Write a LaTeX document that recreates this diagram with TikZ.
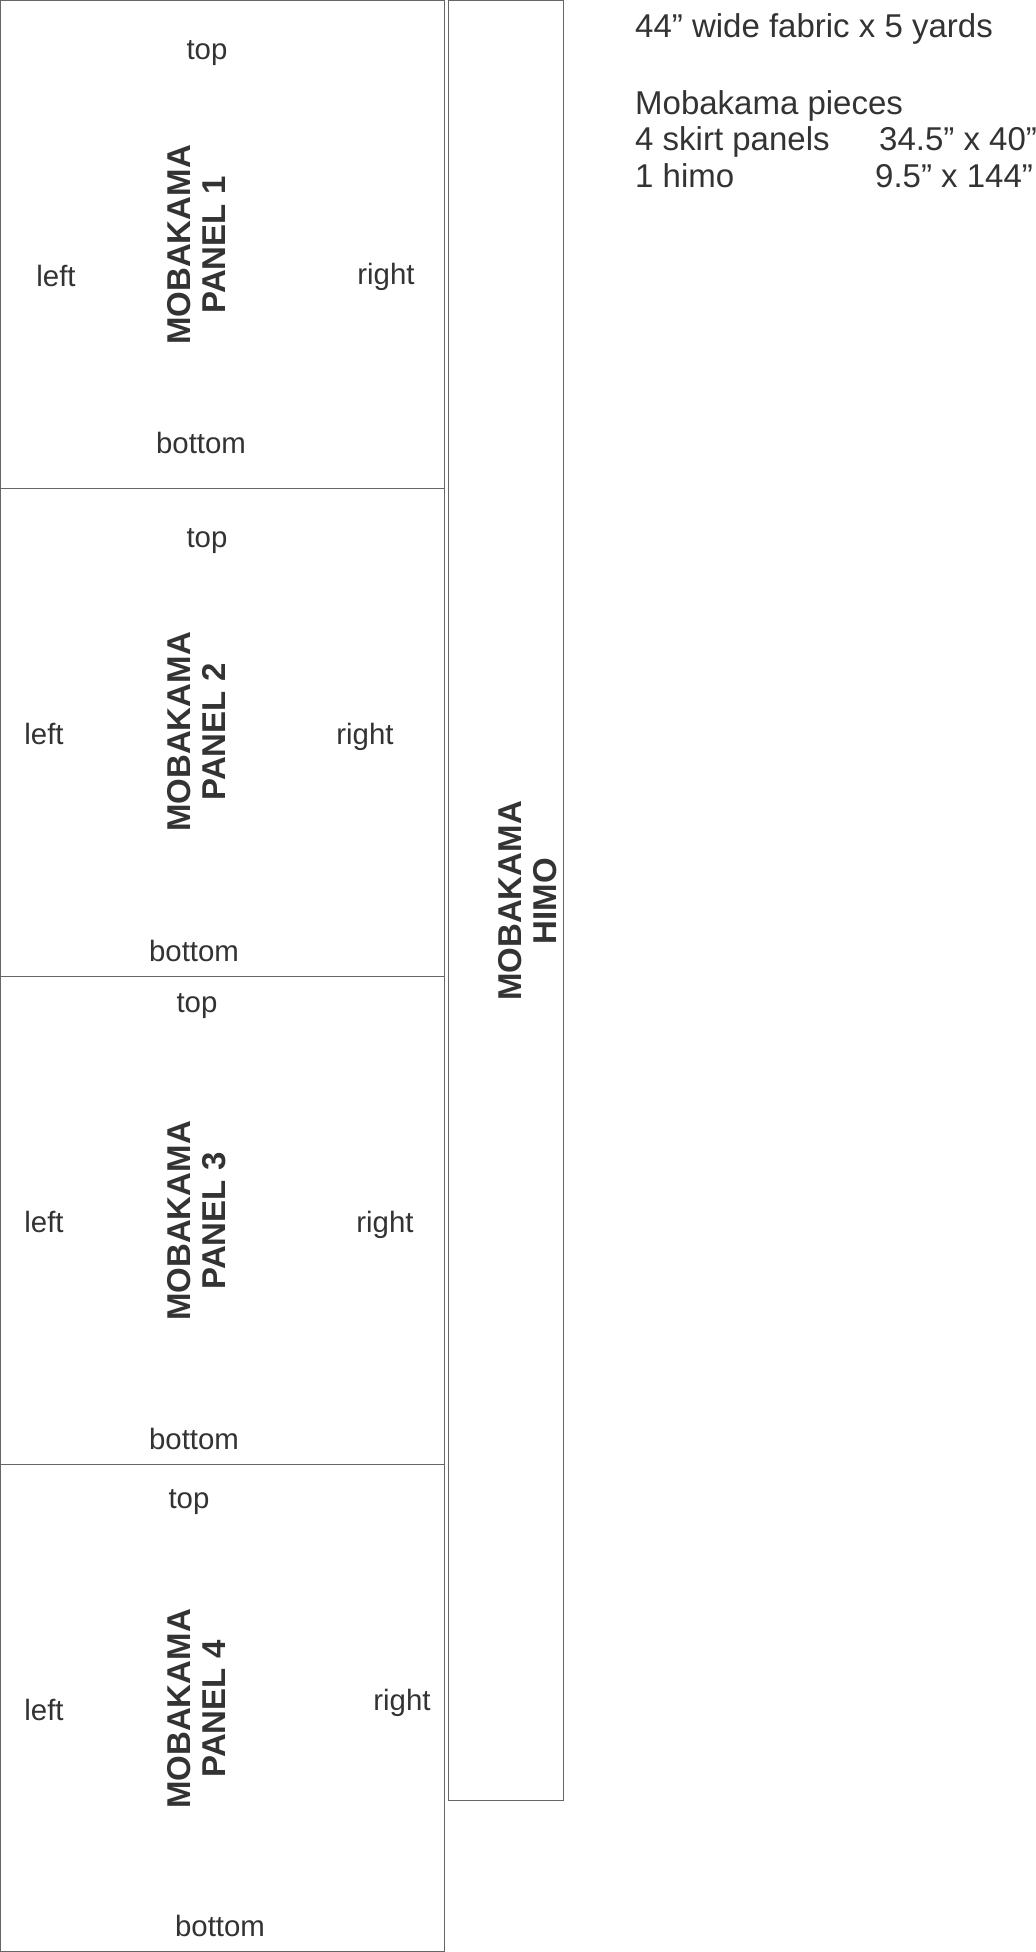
\documentclass[tikz,border=0pt]{standalone}
\usepackage{fontspec}
\setmainfont{Liberation Sans}
\definecolor{ink}{HTML}{333333}
\definecolor{edge}{HTML}{666666}
\newcommand{\vlab}[2]{\begin{tabular}{@{}c@{}}#1\\#2\end{tabular}}
\tikzset{
  piece/.style={draw=edge, line width=1pt, fill=none},
  side/.style={inner sep=0pt, text=ink, font=\fontsize{29.4}{34}\selectfont, anchor=center},
  head/.style={inner sep=0pt, text=ink, font=\fontsize{33}{38}\selectfont, anchor=base west},
  biglab/.style={inner sep=0pt, text=ink, font=\fontsize{33}{35}\selectfont\bfseries, rotate=90, anchor=center}
}
\begin{document}
\begin{tikzpicture}[x=1pt,y=-1pt]
\useasboundingbox (0,0) rectangle (1036,1952);
\fill[white] (0,0) rectangle (1036,1952);
% panels
\draw[piece] (0.5,0.5) rectangle (444.5,488);
\draw[piece] (0.5,488) rectangle (444.5,976);
\draw[piece] (0.5,976) rectangle (444.5,1464);
\draw[piece] (0.5,1464) rectangle (444.5,1951);
% himo
\draw[piece] (448.5,0.5) rectangle (563.5,1800);
% panel 1
\node[side] (t1) at (207,53) {top};
\node[side] (l1) at (56,276) {left};
\node[side] (r1) at (386,277) {right};
\node[side] (b1) at (201,443) {bottom};
\node[biglab] (m1) at (201,245) {\vlab{MOBAKAMA}{PANEL 1}};
% panel 2
\node[side] (t2) at (207,541) {top};
\node[side] (l2) at (44,734) {left};
\node[side] (r2) at (365,737) {right};
\node[side] (b2) at (194,951) {bottom};
\node[biglab] (m2) at (201,732) {\vlab{MOBAKAMA}{PANEL 2}};
% panel 3
\node[side] (t3) at (197,1006) {top};
\node[side] (l3) at (44,1222) {left};
\node[side] (r3) at (385,1225) {right};
\node[side] (b3) at (194,1439) {bottom};
\node[biglab] (m3) at (201,1221) {\vlab{MOBAKAMA}{PANEL 3}};
% panel 4
\node[side] (t4) at (189,1502) {top};
\node[side] (l4) at (44,1710) {left};
\node[side] (r4) at (402,1703) {right};
\node[side] (b4) at (220,1926) {bottom};
\node[biglab] (m4) at (201,1709) {\vlab{MOBAKAMA}{PANEL 4}};
% himo label
\node[biglab] (mh) at (532,901) {\vlab{MOBAKAMA}{HIMO}};
% header
\node[head] (h1) at (635,37) {44” wide fabric x 5 yards};
\node[head] (h2) at (635,114) {Mobakama pieces};
\node[head] (h3) at (635,150) {4 skirt panels};
\node[head] (h3b) at (879,150) {34.5” x 40”};
\node[head] (h4) at (635,187) {1 himo};
\node[head] (h4b) at (875,187) {9.5” x 144”};
\end{tikzpicture}
\end{document}
